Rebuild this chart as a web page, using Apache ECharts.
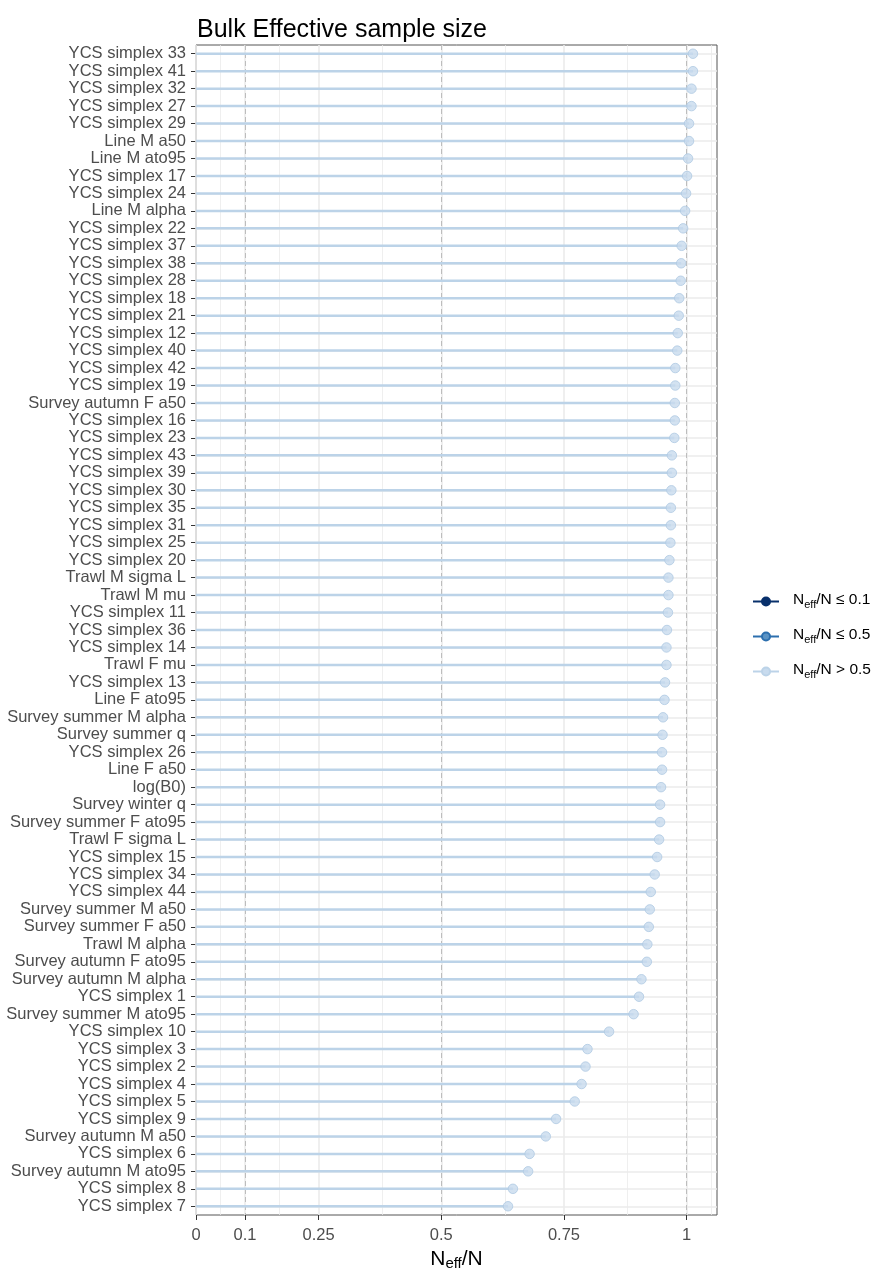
<!DOCTYPE html>
<html>
<head>
<meta charset="utf-8">
<script src="https://cdn.jsdelivr.net/npm/echarts@6/dist/echarts.min.js"></script>
<style>
  html, body { margin: 0; padding: 0; background: #fff; }
  #chart { width: 882px; height: 1272px; }
</style>
</head>
<body>
<div id="chart"></div>
<script>
var categories = [
  'YCS simplex 33', 'YCS simplex 41', 'YCS simplex 32', 'YCS simplex 27', 'YCS simplex 29',
  'Line M a50', 'Line M ato95', 'YCS simplex 17', 'YCS simplex 24', 'Line M alpha',
  'YCS simplex 22', 'YCS simplex 37', 'YCS simplex 38', 'YCS simplex 28', 'YCS simplex 18',
  'YCS simplex 21', 'YCS simplex 12', 'YCS simplex 40', 'YCS simplex 42', 'YCS simplex 19',
  'Survey autumn F a50', 'YCS simplex 16', 'YCS simplex 23', 'YCS simplex 43', 'YCS simplex 39',
  'YCS simplex 30', 'YCS simplex 35', 'YCS simplex 31', 'YCS simplex 25', 'YCS simplex 20',
  'Trawl M sigma L', 'Trawl M mu', 'YCS simplex 11', 'YCS simplex 36', 'YCS simplex 14',
  'Trawl F mu', 'YCS simplex 13', 'Line F ato95', 'Survey summer M alpha', 'Survey summer q',
  'YCS simplex 26', 'Line F a50', 'log(B0)', 'Survey winter q', 'Survey summer F ato95',
  'Trawl F sigma L', 'YCS simplex 15', 'YCS simplex 34', 'YCS simplex 44', 'Survey summer M a50',
  'Survey summer F a50', 'Trawl M alpha', 'Survey autumn F ato95', 'Survey autumn M alpha', 'YCS simplex 1',
  'Survey summer M ato95', 'YCS simplex 10', 'YCS simplex 3', 'YCS simplex 2', 'YCS simplex 4',
  'YCS simplex 5', 'YCS simplex 9', 'Survey autumn M a50', 'YCS simplex 6', 'Survey autumn M ato95',
  'YCS simplex 8', 'YCS simplex 7'
];
var ratios = [
  1.013, 1.013, 1.010, 1.010, 1.005,
  1.005, 1.003, 1.001, 0.999, 0.997,
  0.993, 0.990, 0.989, 0.988, 0.985,
  0.984, 0.982, 0.981, 0.977, 0.977,
  0.976, 0.976, 0.975, 0.970, 0.970,
  0.969, 0.968, 0.968, 0.967, 0.965,
  0.963, 0.963, 0.962, 0.960, 0.959,
  0.959, 0.956, 0.955, 0.952, 0.951,
  0.950, 0.950, 0.948, 0.946, 0.946,
  0.944, 0.940, 0.935, 0.927, 0.925,
  0.923, 0.920, 0.919, 0.908, 0.903,
  0.892, 0.842, 0.798, 0.794, 0.786,
  0.772, 0.734, 0.713, 0.680, 0.677,
  0.646, 0.636
];
var xTicks = [0, 0.1, 0.25, 0.5, 0.75, 1];
var xMinor = [0.05, 0.175, 0.375, 0.625, 0.875, 1.05];
var refLines = [0.1, 0.5, 1];
var xMax = 1.062;

var legendNames = ['\u2264 0.1', '\u2264 0.5', '> 0.5'];
var lineColors = ['#08306b', '#2c6fae', '#bcd3e8'];
var fillColors = ['#08306b', '#5b93c4', '#c8dbee'];

function level(v) { return v <= 0.1 ? 0 : (v <= 0.5 ? 1 : 2); }

var font = "'Liberation Sans', Arial, sans-serif";

var chart = echarts.init(document.getElementById('chart'), null, { renderer: 'canvas' });

var gridLines = [];
categories.forEach(function (c) {
  gridLines.push({ yAxis: c, lineStyle: { color: '#ebebeb', width: 1.6, type: 'solid' } });
});
xMinor.forEach(function (v) {
  gridLines.push({ xAxis: v, lineStyle: { color: '#ebebeb', width: 0.8, type: 'solid' } });
});
xTicks.forEach(function (v) {
  gridLines.push({ xAxis: v, lineStyle: { color: '#ebebeb', width: 1.6, type: 'solid' } });
});
refLines.forEach(function (v) {
  gridLines.push({ xAxis: v, lineStyle: { color: '#bdbdbd', width: 1, type: [5, 3] } });
});

var legendSeries = legendNames.map(function (n, i) {
  return {
    name: n, type: 'line', data: [],
    symbol: 'circle', symbolSize: 8,
    lineStyle: { color: lineColors[i], width: 2 },
    itemStyle: { color: fillColors[i], borderColor: lineColors[i], borderWidth: 1 }
  };
});

chart.setOption({
  animation: false,
  textStyle: { fontFamily: font },
  title: {
    text: 'Bulk Effective sample size',
    left: 192, top: 13,
    textStyle: { fontSize: 25, fontWeight: 'normal', color: '#000', fontFamily: font }
  },
  legend: {
    data: legendNames,
    orient: 'vertical',
    left: 747, top: 587,
    itemWidth: 26, itemHeight: 10, itemGap: 17,
    formatter: function (n) { return '{n|N}{s|eff}{n|/N ' + n + '}'; },
    textStyle: {
      padding: [0, 0, 0, 9],
      rich: {
        n: { fontSize: 15.5, color: '#000', lineHeight: 17, verticalAlign: 'bottom', padding: [0, 0, 2, 0], fontFamily: font },
        s: { fontSize: 11, color: '#000', lineHeight: 17, verticalAlign: 'bottom', fontFamily: font }
      }
    }
  },
  grid: {
    left: 196, right: 165, top: 45, bottom: 57,
    outerBoundsMode: 'none',
    show: true, borderColor: '#555', borderWidth: 1, backgroundColor: 'transparent'
  },
  xAxis: {
    type: 'value', min: 0, max: xMax,
    name: '{n|N}{s|eff}{n|/N}',
    nameLocation: 'middle', nameGap: 34,
    nameTextStyle: {
      rich: {
        n: { fontSize: 21, color: '#000', lineHeight: 22, verticalAlign: 'bottom', padding: [0, 0, 1, 0], fontFamily: font },
        s: { fontSize: 15, color: '#000', lineHeight: 22, verticalAlign: 'bottom', fontFamily: font }
      }
    },
    axisLine: { show: false },
    axisTick: { show: true, length: 5, customValues: xTicks, lineStyle: { color: '#333' } },
    axisLabel: { customValues: xTicks, color: '#4d4d4d', fontSize: 16.5, margin: 12, fontFamily: font },
    splitLine: { show: false }
  },
  yAxis: {
    type: 'category', data: categories, inverse: true,
    axisLine: { show: false },
    axisTick: { show: true, length: 5, alignWithLabel: true, lineStyle: { color: '#333' } },
    axisLabel: { color: '#4d4d4d', fontSize: 16.5, margin: 10, interval: 0, fontFamily: font },
    splitLine: { show: false }
  },
  series: legendSeries.concat([
    {
      name: 'stem', type: 'bar', data: ratios, barWidth: 2.5, z: 2,
      itemStyle: { color: function (p) { return lineColors[level(p.value)]; } },
      markLine: {
        silent: true, symbol: ['none', 'none'], label: { show: false }, z: 1,
        data: gridLines
      }
    },
    {
      name: 'point', type: 'scatter', data: ratios, symbolSize: 9.5, z: 3,
      itemStyle: {
        color: function (p) { return fillColors[level(p.value)]; },
        borderColor: '#afc9e2', borderWidth: 1
      }
    }
  ])
});
</script>
</body>
</html>
